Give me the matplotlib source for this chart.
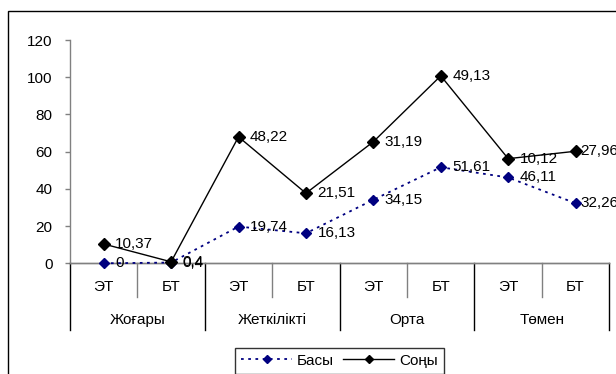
import numpy as np
import matplotlib
matplotlib.use("Agg")
import matplotlib.pyplot as plt
from matplotlib.patches import Rectangle
import matplotlib.transforms as mtransforms

plt.rcParams['font.family'] = ['Liberation Sans', 'DejaVu Sans']

# Data
groups = ["Жоғары", "Жеткілікті", "Орта", "Төмен"]
subcats = ["ЭТ", "БТ", "ЭТ", "БТ", "ЭТ", "БТ", "ЭТ", "БТ"]
basy = [0, 0.4, 19.74, 16.13, 34.15, 51.61, 46.11, 32.26]
sony = [10.37, 0.4, 48.22, 21.51, 31.19, 49.13, 10.12, 27.96]
basy_lbl = ["0", "0,4", "19,74", "16,13", "34,15", "51,61", "46,11", "32,26"]
sony_lbl = ["10,37", "0,4", "48,22", "21,51", "31,19", "49,13", "10,12", "27,96"]
yticks = [0, 20, 40, 60, 80, 100, 120]

FS = 11
W, H = 616, 374
fig = plt.figure(figsize=(W / 100, H / 100), dpi=100)

# Outer chart border (cut at right and bottom)
fig.patches.append(Rectangle((8 / W, -0.2), 1.2, 1 - 11 / H + 0.2,
                             transform=fig.transFigure, fill=False,
                             edgecolor='black', lw=1.0, clip_on=False))

ax_l, ax_r, ax_b, ax_t = 70, 609.3, 263.3, 40
ax = fig.add_axes([ax_l / W, 1 - ax_b / H, (ax_r - ax_l) / W, (ax_b - ax_t) / H])

x = np.arange(len(subcats))
stack = np.array(basy) + np.array(sony)

ax.plot(x, basy, color='#000080', lw=1.3, ls=(0, (1.5, 2.5)), marker='D',
        markersize=5.5, markerfacecolor='#000080', markeredgecolor='#000080',
        label='Басы', clip_on=False, zorder=3)
ax.plot(x, stack, color='black', lw=1.0, ls='-', marker='D',
        markersize=6, markerfacecolor='black', markeredgecolor='black',
        label='Соңы', clip_on=False, zorder=4)

n = len(subcats)
for xi, yi, t in zip(x, basy, basy_lbl):
    dx = 3.5 if xi == n - 1 else 8.3
    ax.annotate(t, (xi, yi), xytext=(dx, 0), textcoords='offset points',
                va='center', ha='left', fontsize=FS, color='black', zorder=5)
for xi, yi, t in zip(x, stack, sony_lbl):
    dx = 3.5 if xi == n - 1 else 8.3
    ax.annotate(t, (xi, yi), xytext=(dx, 0), textcoords='offset points',
                va='center', ha='left', fontsize=FS, color='black', zorder=5)

ax.set_xlim(-0.5, n - 0.5)
ax.set_ylim(0, 120)
ax.set_yticks(yticks)
ax.set_yticklabels([str(v) for v in yticks], fontsize=FS)
ax.tick_params(axis='y', direction='out', length=3.5, width=1, color='#808080', pad=9)
ax.set_xticks([])
for s in ['top', 'right']:
    ax.spines[s].set_visible(False)
for s in ['left', 'bottom']:
    ax.spines[s].set_color('#808080')
    ax.spines[s].set_linewidth(1.0)
ax.patch.set_alpha(0)

# Category labels and separators
axh = ax_b - ax_t
trans = mtransforms.blended_transform_factory(ax.transData, ax.transAxes)
for i, lab in enumerate(subcats):
    ax.text(i, -23.4 / axh, lab, transform=trans, ha='center', va='center', fontsize=FS)
for g, lab in enumerate(groups):
    ax.text(2 * g + 0.5, -56.7 / axh, lab, transform=trans, ha='center', va='center', fontsize=FS)
for b in range(n + 1):
    depth = 66.7 if b % 2 == 0 else 33.4
    ax.plot([b - 0.5, b - 0.5], [0, -depth / axh], transform=trans,
            color='#808080' if b % 2 else 'black', lw=1.0, clip_on=False)
ax.plot([-0.5, n - 0.5], [0, 0], transform=trans, color='#808080', lw=1.0, clip_on=False)

leg = fig.legend(loc='upper left', bbox_to_anchor=(235 / W, 1 - 347.7 / H), ncol=2,
                 frameon=True, fancybox=False, edgecolor='black', fontsize=FS,
                 handlelength=3.35, handletextpad=0.3, columnspacing=0.6,
                 borderpad=0.4, markerscale=0.7, borderaxespad=0)
leg.get_frame().set_linewidth(1.0)

fig.savefig('out.png', dpi=100)
